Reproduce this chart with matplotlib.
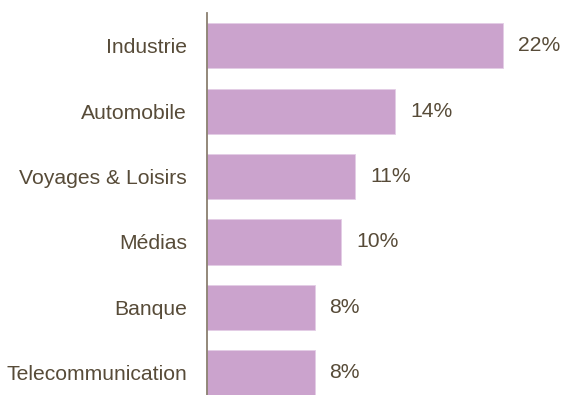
import matplotlib.pyplot as plt

categories = ["Industrie", "Automobile", "Voyages & Loisirs", "Médias", "Banque", "Telecommunication"]
shares = [22, 14, 11, 10, 8, 8]
value_labels = ["22%", "14%", "11%", "10%", "8%", "8%"]

BAR_COLOR = "#cba3cd"
TEXT_COLOR = "#574b38"
AXIS_COLOR = "#8a7f70"

plt.rcParams["font.family"] = ["Liberation Sans", "DejaVu Sans"]

fig = plt.figure(figsize=(5.63, 3.95), dpi=100)
ax = fig.add_axes([207 / 563, 0, 1 - 207 / 563, 1 - 13 / 395])

pos = list(range(len(categories)))
ax.barh(pos, shares, height=0.69, color=BAR_COLOR, edgecolor="#e3cde5", linewidth=0.6)

# percentage next to each bar
for y, v, lab in zip(pos, shares, value_labels):
    ax.annotate(lab, (v, y), xytext=(15, 0), textcoords="offset pixels",
                va="center", ha="left", fontsize=15.2, color=TEXT_COLOR)

ax.set_yticks(pos)
ax.set_yticklabels(categories, fontsize=15.2, color=TEXT_COLOR)
ax.tick_params(axis="y", length=0, pad=14.4)
ax.set_xticks([])
ax.set_xlim(0, 26.47)
ax.set_ylim(5.34, -0.5)

for side in ["top", "right", "bottom"]:
    ax.spines[side].set_visible(False)
ax.spines["left"].set_color(AXIS_COLOR)
ax.spines["left"].set_linewidth(1.3)

fig.savefig("out.png", dpi=100)
